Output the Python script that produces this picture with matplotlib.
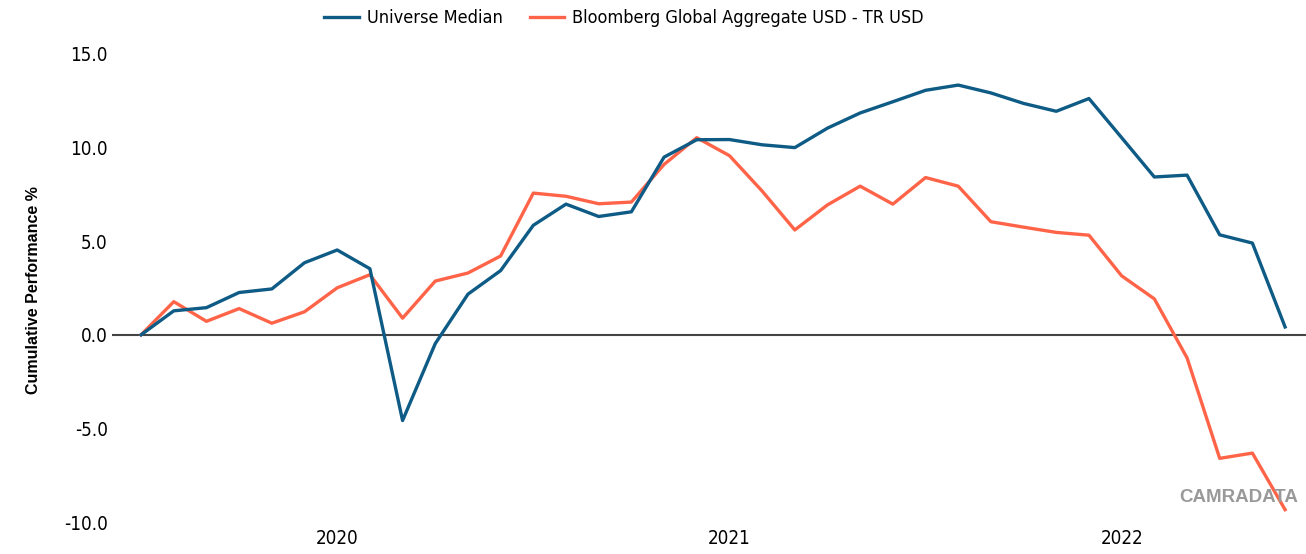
import numpy as np
import matplotlib
matplotlib.use("Agg")
import matplotlib.pyplot as plt

# Month index 0..35, year labels at mid points
universe = [0.0, 1.28, 1.45, 2.26, 2.45, 3.85, 4.53, 3.53, -4.58, -0.47, 2.17, 3.43,
            5.85, 6.98, 6.32, 6.57, 9.49, 10.42, 10.43, 10.15, 10.0, 11.04, 11.85, 12.45,
            13.06, 13.34, 12.92, 12.36, 11.94, 12.62, 10.53, 8.43, 8.53, 5.34, 4.9, 0.42]
bloomberg = [0.0, 1.77, 0.72, 1.40, 0.62, 1.23, 2.51, 3.21, 0.89, 2.87, 3.30, 4.21,
             7.57, 7.40, 7.0, 7.09, 9.1, 10.53, 9.57, 7.68, 5.6, 6.94, 7.94, 6.98,
             8.4, 7.94, 6.04, 5.75, 5.47, 5.32, 3.15, 1.92, -1.23, -6.6, -6.32, -9.34]
year_labels = ["2020", "2021", "2022"]
year_pos = [6, 18, 30]
yticks = [-10, -5, 0, 5, 10, 15]

narrow = {"family": "DejaVu Sans", "stretch": "condensed", "size": 13.5}
blue = "#0E5B86"
orange = "#FF6448"

fig = plt.figure(figsize=(13.06, 5.54), dpi=100)
ax = fig.add_axes([112/1306, 32/554, 1 - 112/1306, (522-54)/554])

x = np.arange(len(universe))
ax.axhline(0, color="#444444", lw=1.5, zorder=1)
l1, = ax.plot(x, universe, color=blue, lw=2.4, label="Universe Median", zorder=3)
l2, = ax.plot(x, bloomberg, color=orange, lw=2.4,
              label="Bloomberg Global Aggregate USD - TR USD", zorder=2)

ax.set_xlim(-0.89, 35.64)
ax.set_ylim(-10, 15)
for s in ax.spines.values():
    s.set_visible(False)

ax.set_yticks(yticks)
ax.set_yticklabels([f"{v:.1f}" for v in yticks], **narrow)
ax.set_xticks(year_pos)
ax.set_xticklabels(year_labels, **narrow)
ax.tick_params(length=0, pad=5)
ax.tick_params(axis="y", pad=3)

fig.text(34/1306, 1 - 290/554, "Cumulative Performance %", rotation=90,
         ha="center", va="center", fontsize=11.5, fontweight="bold",
         family=["Liberation Sans", "DejaVu Sans"])

fig.legend(handles=[l1, l2], loc="center", bbox_to_anchor=(624/1306, 1 - 18/554),
           ncol=2, frameon=False,
           prop={"family": "DejaVu Sans", "stretch": "condensed", "size": 13},
           handlelength=1.9, columnspacing=1.5, handletextpad=0.45)

fig.text(1298/1306, 1 - 498/554, "CAMRADATA", ha="right", va="center",
         fontsize=13.5, fontweight="bold", color="#999999",
         family=["Liberation Sans", "DejaVu Sans"])

fig.savefig("out.png", dpi=100)
